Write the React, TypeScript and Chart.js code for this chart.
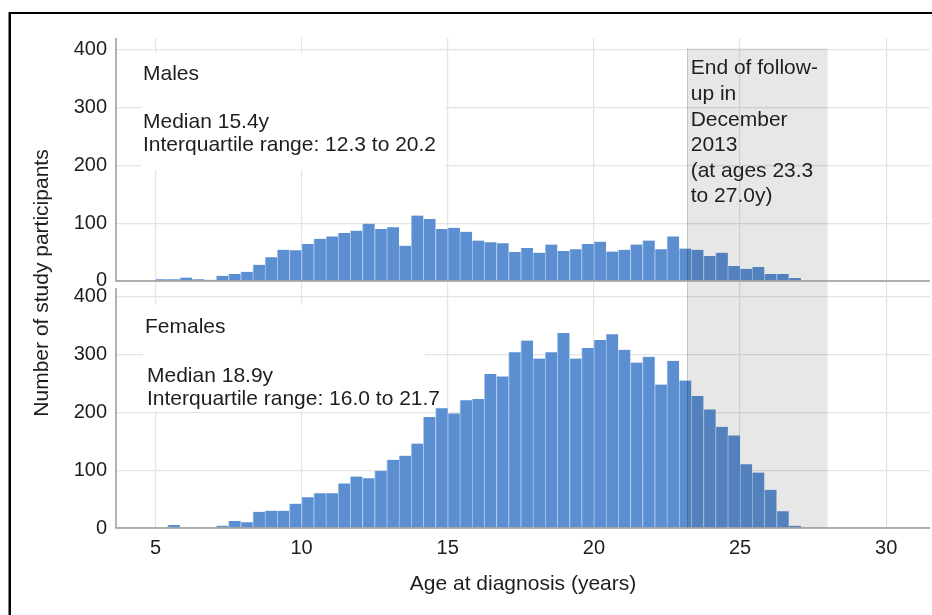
import React, { useEffect, useRef } from 'react';
import { Chart, registerables } from 'chart.js';

Chart.register(...registerables);

// ---- data ----
// bin start (months of age), 5-month bins
const binStartMonths = [
  60, 65, 70, 75, 80, 85, 90, 95, 100, 105, 110, 115, 120, 125, 130, 135, 140, 145,
  150, 155, 160, 165, 170, 175, 180, 185, 190, 195, 200, 205, 210, 215, 220, 225,
  230, 235, 240, 245, 250, 255, 260, 265, 270, 275, 280, 285, 290, 295, 300, 305,
  310, 315, 320,
];
const binWidthMonths = 5;

const malesCounts = [
  3, 3, 6, 3, 2, 9, 12, 16, 28, 41, 54, 53, 64, 73, 77, 83, 87, 99, 90, 93, 61,
  113, 107, 90, 92, 85, 70, 67, 65, 50, 57, 49, 63, 52, 55, 64, 68, 51, 54, 63, 70,
  55, 77, 56, 54, 43, 49, 26, 21, 24, 12, 12, 5,
];
const femalesCounts = [
  1, 5, 1, 1, 1, 4, 12, 10, 28, 30, 30, 42, 53, 60, 60, 77, 89, 86, 99, 118, 125,
  146, 192, 207, 198, 221, 223, 266, 262, 304, 324, 293, 304, 337, 293, 311, 325,
  335, 308, 286, 296, 248, 289, 255, 228, 205, 175, 160, 110, 96, 66, 29, 4,
];

const xTickValues = [5, 10, 15, 20, 25, 30];
const yTickValues = [0, 100, 200, 300, 400];
const followUpStart = 23.2;
const followUpEnd = 28.0;

const maleNotes = ['Males', 'Median 15.4y', 'Interquartile range: 12.3 to 20.2'];
const femaleNotes = ['Females', 'Median 18.9y', 'Interquartile range: 16.0 to 21.7'];
const followUpNotes = ['End of follow-', 'up in', 'December', '2013', '(at ages 23.3', 'to 27.0y)'];
const xTitle = 'Age at diagnosis (years)';
const yTitle = 'Number of study participants';

// ---- style ----
const FONT = "'Liberation Sans', Arial, Helvetica, sans-serif";
const TEXT = '#1e1e1e';
const BAR = '#5b8fd2';
const BAR_EDGE = '#a9c6ec';
const GRID = '#e4e4e4';
const AXIS = '#9a9a9a';

const toPoints = (counts: number[]) =>
  counts.map((c, i) => ({ x: (binStartMonths[i] + binWidthMonths / 2) / 12, y: c }));

const decorPlugin = {
  id: 'decor',
  beforeDatasetsDraw(chart: any) {
    const ctx = chart.ctx;
    ctx.save();
    ctx.fillStyle = '#ffffff';
    ctx.fillRect(141, 53, 304, 117);
    ctx.fillRect(143, 305, 282, 106);
    ctx.restore();
  },
  afterDatasetsDraw(chart: any) {
    const ctx = chart.ctx;
    const { x, yM, yF } = chart.scales;
    const area = chart.chartArea;
    ctx.save();
    // follow-up shading
    const gx0 = x.getPixelForValue(followUpStart);
    const gx1 = x.getPixelForValue(followUpEnd);
    const gy0 = yM.getPixelForValue(402);
    const gy1 = yF.getPixelForValue(0);
    ctx.fillStyle = 'rgba(0,0,0,0.095)';
    ctx.fillRect(gx0, gy0, gx1 - gx0, gy1 - gy0);
    ctx.fillStyle = 'rgba(0,0,0,0.18)';
    ctx.fillRect(Math.round(gx0), gy0, 1, gy1 - gy0);

    // axes (L shapes with a break between panels)
    ctx.strokeStyle = AXIS;
    ctx.lineWidth = 1.5;
    const m0 = yM.getPixelForValue(0);
    const f0 = yF.getPixelForValue(0);
    ctx.beginPath();
    ctx.moveTo(area.left, area.top);
    ctx.lineTo(area.left, m0);
    ctx.lineTo(area.right, m0);
    ctx.stroke();
    ctx.beginPath();
    ctx.moveTo(area.left, yF.top);
    ctx.lineTo(area.left, f0);
    ctx.lineTo(area.right, f0);
    ctx.stroke();

    // annotation texts
    ctx.fillStyle = TEXT;
    ctx.font = `21px ${FONT}`;
    ctx.textBaseline = 'alphabetic';
    ctx.textAlign = 'left';
    ctx.fillText(maleNotes[0], 143, 80);
    ctx.fillText(maleNotes[1], 143, 127.7);
    ctx.fillText(maleNotes[2], 143, 150.7);
    ctx.fillText(femaleNotes[0], 145, 333);
    ctx.fillText(femaleNotes[1], 147, 381.7);
    ctx.fillText(femaleNotes[2], 147, 405);
    const gb = [74.3, 100, 126, 150.7, 176.7, 201.7];
    followUpNotes.forEach((t, i) => ctx.fillText(t, 690.7, gb[i]));

    // y title
    ctx.translate(42, (area.top + area.bottom) / 2);
    ctx.rotate(-Math.PI / 2);
    ctx.textAlign = 'center';
    ctx.textBaseline = 'middle';
    ctx.fillText(yTitle, 0, 0);
    ctx.restore();

    // frame
    ctx.save();
    ctx.fillStyle = '#000';
    ctx.fillRect(9, 12, 923, 2);
    ctx.fillRect(8.5, 12, 2.5, 603);
    ctx.restore();
  },
};

const yScale = (min: number, max: number, weight: number) => ({
  type: 'linear',
  position: 'left',
  stack: 'panels',
  stackWeight: weight,
  min,
  max,
  afterBuildTicks: (s: any) => {
    s.ticks = yTickValues.map((v) => ({ value: v }));
  },
  afterFit: (s: any) => {
    s.width = 116;
  },
  grid: { color: GRID, lineWidth: 1.2, drawTicks: false },
  border: { display: false },
  ticks: { padding: 9, color: TEXT, font: { family: FONT, size: 20 } },
});

export default function App() {
  const ref = useRef<HTMLCanvasElement | null>(null);
  useEffect(() => {
    if (!ref.current) return;
    const barStyle = {
      backgroundColor: BAR,
      borderColor: BAR_EDGE,
      borderWidth: { left: 1, right: 0, top: 0, bottom: 0 },
      borderSkipped: 'start',
      barPercentage: 1,
      categoryPercentage: 1,
      grouped: false,
    };
    const chart = new Chart(ref.current, {
      type: 'bar',
      data: {
        datasets: [
          { label: 'Males', data: toPoints(malesCounts), yAxisID: 'yM', ...barStyle } as any,
          { label: 'Females', data: toPoints(femalesCounts), yAxisID: 'yF', ...barStyle } as any,
        ],
      },
      options: {
        responsive: false,
        animation: false,
        events: [],
        layout: { padding: { top: 38, right: 2, left: 0, bottom: 0 } },
        plugins: { legend: { display: false }, tooltip: { enabled: false } },
        scales: {
          x: {
            type: 'linear',
            min: 3.65,
            max: 31.5,
            offset: false,
            afterBuildTicks: (s: any) => {
              s.ticks = xTickValues.map((v) => ({ value: v }));
            },
            afterFit: (s: any) => {
              s.height = 87;
            },
            grid: { color: GRID, lineWidth: 1.2, drawTicks: false, offset: false },
            border: { display: false },
            ticks: {
              padding: 8,
              color: TEXT,
              maxRotation: 0,
              autoSkip: false,
              font: { family: FONT, size: 20 },
            },
            title: {
              display: true,
              text: xTitle,
              color: TEXT,
              font: { family: FONT, size: 21 },
              padding: { top: 4, bottom: 18 },
            },
          },
          yF: yScale(0, 415, 415),
          yM: yScale(-12, 420, 432),
        } as any,
      },
      plugins: [decorPlugin],
    } as any);
    return () => chart.destroy();
  }, []);
  return (
    <div style={{ position: 'fixed', left: 0, top: 0, width: 932, height: 615, background: '#fff' }}>
      <canvas ref={ref} width={932} height={615} style={{ display: 'block' }} />
    </div>
  );
}
